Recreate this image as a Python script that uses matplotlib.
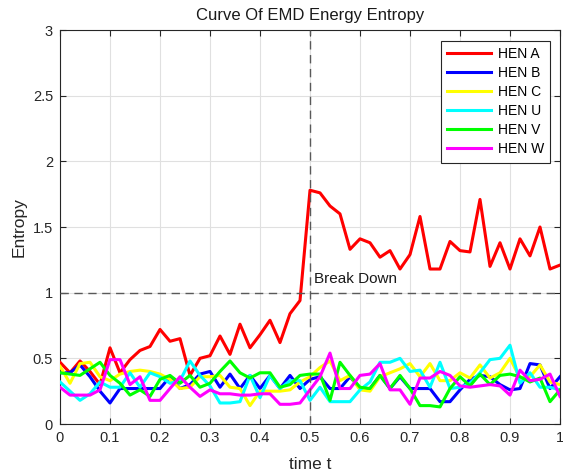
import numpy as np
import matplotlib
matplotlib.use("Agg")
import matplotlib.pyplot as plt

plt.rcParams['font.family'] = ['Liberation Sans', 'DejaVu Sans']

t = [round(0.02 * i, 2) for i in range(51)]

hen_a = [0.47, 0.39, 0.48, 0.40, 0.30, 0.58, 0.39, 0.49, 0.56, 0.59,
         0.72, 0.63, 0.65, 0.37, 0.50, 0.52, 0.67, 0.53, 0.76, 0.58,
         0.68, 0.79, 0.62, 0.84, 0.94, 1.78, 1.76, 1.66, 1.60, 1.33,
         1.41, 1.38, 1.27, 1.32, 1.18, 1.29, 1.58, 1.18, 1.18, 1.39,
         1.32, 1.31, 1.71, 1.20, 1.38, 1.18, 1.41, 1.28, 1.50, 1.18, 1.21]
hen_b = [0.39, 0.39, 0.45, 0.36, 0.25, 0.16, 0.27, 0.27, 0.27, 0.27,
         0.27, 0.36, 0.27, 0.30, 0.38, 0.40, 0.28, 0.38, 0.27, 0.37,
         0.27, 0.37, 0.27, 0.37, 0.27, 0.34, 0.36, 0.27, 0.27, 0.36,
         0.27, 0.27, 0.37, 0.27, 0.36, 0.27, 0.27, 0.27, 0.17, 0.17,
         0.26, 0.34, 0.37, 0.36, 0.30, 0.26, 0.27, 0.46, 0.45, 0.27, 0.36]
hen_c = [0.44, 0.31, 0.46, 0.47, 0.36, 0.33, 0.38, 0.40, 0.41, 0.40,
         0.38, 0.34, 0.27, 0.28, 0.36, 0.36, 0.37, 0.28, 0.27, 0.14,
         0.25, 0.25, 0.25, 0.26, 0.32, 0.36, 0.43, 0.48, 0.33, 0.37,
         0.26, 0.25, 0.36, 0.39, 0.42, 0.46, 0.36, 0.46, 0.33, 0.33,
         0.39, 0.35, 0.45, 0.35, 0.39, 0.50, 0.35, 0.36, 0.45, 0.32, 0.30]
hen_u = [0.32, 0.25, 0.18, 0.23, 0.32, 0.28, 0.28, 0.39, 0.28, 0.39,
         0.36, 0.31, 0.33, 0.48, 0.37, 0.29, 0.16, 0.16, 0.17, 0.37,
         0.20, 0.37, 0.27, 0.33, 0.33, 0.18, 0.28, 0.17, 0.17, 0.17,
         0.26, 0.32, 0.47, 0.47, 0.50, 0.40, 0.41, 0.28, 0.47, 0.27,
         0.28, 0.31, 0.39, 0.49, 0.50, 0.60, 0.31, 0.39, 0.28, 0.28, 0.26]
hen_v = [0.39, 0.38, 0.37, 0.42, 0.47, 0.37, 0.31, 0.22, 0.26, 0.21,
         0.34, 0.37, 0.31, 0.37, 0.28, 0.31, 0.40, 0.48, 0.39, 0.35,
         0.39, 0.39, 0.28, 0.30, 0.37, 0.38, 0.38, 0.18, 0.47, 0.37,
         0.28, 0.27, 0.37, 0.27, 0.37, 0.27, 0.14, 0.14, 0.13, 0.27,
         0.36, 0.29, 0.38, 0.30, 0.37, 0.38, 0.36, 0.32, 0.35, 0.17, 0.26]
hen_w = [0.28, 0.22, 0.22, 0.22, 0.26, 0.49, 0.49, 0.30, 0.36, 0.18,
         0.18, 0.27, 0.36, 0.28, 0.21, 0.26, 0.23, 0.23, 0.22, 0.22,
         0.23, 0.23, 0.15, 0.15, 0.16, 0.26, 0.36, 0.54, 0.27, 0.27,
         0.37, 0.38, 0.46, 0.26, 0.26, 0.15, 0.35, 0.35, 0.40, 0.37,
         0.29, 0.28, 0.29, 0.30, 0.29, 0.22, 0.41, 0.33, 0.34, 0.38, 0.21]

series = [("HEN A", hen_a, (1, 0, 0)), ("HEN B", hen_b, (0, 0, 1)),
          ("HEN C", hen_c, (1, 1, 0)), ("HEN U", hen_u, (0, 1, 1)),
          ("HEN V", hen_v, (0, 1, 0)), ("HEN W", hen_w, (1, 0, 1))]

fig = plt.figure(figsize=(5.63, 4.72), dpi=100)
ax = fig.add_axes([60 / 563, 1 - 424 / 472, 500 / 563, 394 / 472])

for name, vals, col in series:
    ax.plot(t, vals, color=col, lw=2.2, label=name, zorder=3)

ax.plot([0.5, 0.5], [0, 3], ls=(0, (6, 4)), color='0.35', lw=1.0, zorder=4)
ax.plot([0, 1], [1, 1], ls=(0, (6, 4)), color='0.35', lw=1.0, zorder=4)
ax.text(0.508, 1.07, "Break Down", fontsize=11, color='0.1', zorder=5)

ax.set_xlim(0, 1)
ax.set_ylim(0, 3)
ax.set_xticks(np.arange(0, 1.01, 0.1))
ax.set_xticklabels(["0", "0.1", "0.2", "0.3", "0.4", "0.5", "0.6", "0.7", "0.8", "0.9", "1"])
ax.set_yticks(np.arange(0, 3.01, 0.5))
ax.set_yticklabels(["0", "0.5", "1", "1.5", "2", "2.5", "3"])
ax.grid(True, color='0.88', lw=0.8)
ax.set_axisbelow(True)
ax.tick_params(direction='in', length=4, width=0.8, colors='0.15', labelsize=10.5,
               pad=5, top=True, right=True, labeltop=False, labelright=False)
for sp in ax.spines.values():
    sp.set_color('0.15')
    sp.set_linewidth(0.8)

ax.set_title("Curve Of EMD Energy Entropy", fontsize=12, color='0.1', pad=7)
ax.set_xlabel("time t", fontsize=12.5, color='0.15', labelpad=9)
ax.set_ylabel("Entropy", fontsize=12.5, color='0.15', labelpad=4)

leg = ax.legend(loc='upper right', bbox_to_anchor=((550 - 60) / 500, (424 - 41) / 394),
                borderaxespad=0, fontsize=10, handlelength=3.2, handletextpad=0.45,
                borderpad=0.45, labelspacing=0.36, handleheight=0.7,
                fancybox=False, framealpha=1, edgecolor='0.15')
leg.get_frame().set_linewidth(0.8)
for line in leg.get_lines():
    line.set_linewidth(2.2)

fig.savefig("out.png", dpi=100)
